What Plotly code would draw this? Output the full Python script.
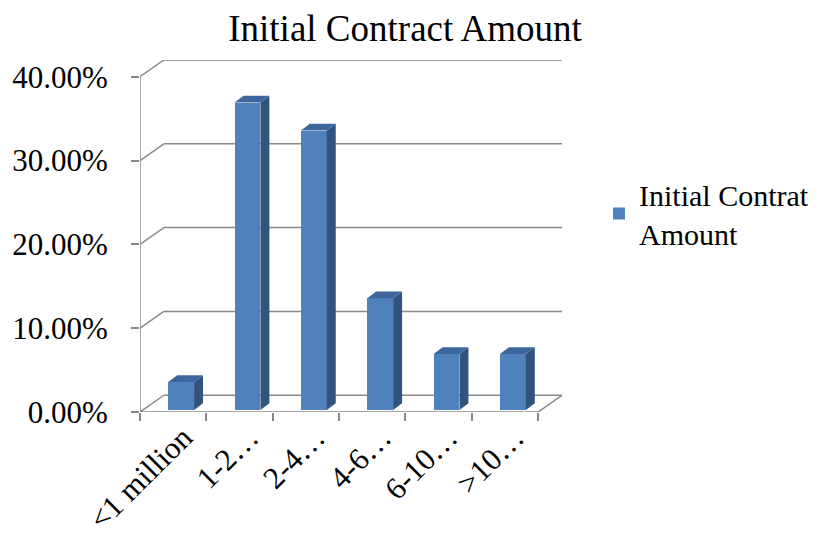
import plotly.graph_objects as go

categories = ["<1 million", "1-2…", "2-4…", "4-6…", "6-10…", ">10…"]
values = [3.33, 36.67, 33.33, 13.33, 6.67, 6.67]
ytick_vals = [0, 10, 20, 30, 40]
ytick_text = ["0.00%", "10.00%", "20.00%", "30.00%", "40.00%"]
series_name = "Initial Contrat<br>Amount"
title_text = "Initial Contract Amount"

FRONT = "#4F81BD"
SIDE = "#31547F"
TOP = "#3D679C"
GRID = "#898989"
FONT = "Liberation Serif, Times New Roman, serif"

n = len(categories)
xs = list(range(n))
# 3D styling constants
wall_dx, wall_dy = 0.36, 2.0        # depth of back wall in data units
bar_shift, bar_w = 0.12, 0.39        # bar offset within category
bar_dx, bar_dy = 0.135, 0.8          # bar depth
base = 0.25

fig = go.Figure()

# front faces
fig.add_trace(go.Bar(
    x=[x + bar_shift for x in xs], y=values, base=[base] * n, width=bar_w,
    marker=dict(color=FRONT, line=dict(width=0)), name=series_name,
    showlegend=True,
))

# side and top faces
for x, v in zip(xs, values):
    xl = x + bar_shift - bar_w / 2
    xr = x + bar_shift + bar_w / 2
    t = base + v
    fig.add_trace(go.Scatter(
        x=[xr, xr + bar_dx, xr + bar_dx, xr, xr],
        y=[base, base + bar_dy, t + bar_dy, t, base],
        fill="toself", fillcolor=SIDE, mode="lines", line=dict(width=0),
        showlegend=False, hoverinfo="skip"))
    fig.add_trace(go.Scatter(
        x=[xl, xl + bar_dx, xr + bar_dx, xr, xl],
        y=[t, t + bar_dy, t + bar_dy, t, t],
        fill="toself", fillcolor=TOP, mode="lines", line=dict(width=0),
        showlegend=False, hoverinfo="skip"))

x_left = -0.5
x_right = n - 0.5
shapes = []
line = dict(color=GRID, width=1.5)
for v in ytick_vals:
    shapes.append(dict(type="line", xref="x", yref="y", x0=x_left, y0=v,
                       x1=x_left + wall_dx, y1=v + wall_dy, line=line, layer="below"))
    shapes.append(dict(type="line", xref="x", yref="y", x0=x_left + wall_dx, y0=v + wall_dy,
                       x1=x_right + wall_dx, y1=v + wall_dy, line=line, layer="below"))
# front axis line
shapes.append(dict(type="line", xref="x", yref="y", x0=x_left, y0=0,
                   x1=x_left, y1=ytick_vals[-1], line=line, layer="below"))
# front floor edge
shapes.append(dict(type="line", xref="x", yref="y", x0=x_left, y0=0,
                   x1=x_right, y1=0, line=line, layer="below"))
# right floor edge
shapes.append(dict(type="line", xref="x", yref="y", x0=x_right, y0=0,
                   x1=x_right + wall_dx, y1=wall_dy, line=line, layer="below"))

fig.update_layout(
    width=827, height=542,
    margin=dict(l=132, r=273, t=52, b=138, autoexpand=False),
    paper_bgcolor="white", plot_bgcolor="white",
    shapes=shapes,
    title=dict(text=title_text, font=dict(family=FONT, size=37, color="black"),
               x=397 / 827, xanchor="center", xref="container",
               y=1 - 20 / 542, yanchor="middle", yref="container"),
    legend=dict(x=591 / 827, xref="container", y=1 - 160 / 542, yref="container",
                xanchor="left", yanchor="top",
                font=dict(family=FONT, size=30, color="black"),
                bgcolor="rgba(0,0,0,0)", itemwidth=30, tracegroupgap=0),
    bargap=0,
    showlegend=True,
)
fig.update_xaxes(
    range=[x_left, x_right + wall_dx], tickvals=xs, ticktext=categories,
    tickangle=-45, ticks="", showgrid=False, zeroline=False, showline=False,
    tickfont=dict(family=FONT, size=31, color="black"),
    minor=dict(tick0=-0.5, dtick=1, ticks="outside", ticklen=8, tickcolor=GRID,
               tickwidth=1.5, showgrid=False),
    ticklabelshift=10, automargin=False,
)
fig.update_yaxes(
    range=[0, ytick_vals[-1] + wall_dy], tickvals=ytick_vals, ticktext=ytick_text,
    ticks="outside", ticklen=8, tickcolor=GRID, tickwidth=1.5,
    showgrid=False, zeroline=False, showline=False,
    tickfont=dict(family=FONT, size=31, color="black"),
    ticklabelstandoff=17, automargin=False,
)
fig.write_html("out.html")
